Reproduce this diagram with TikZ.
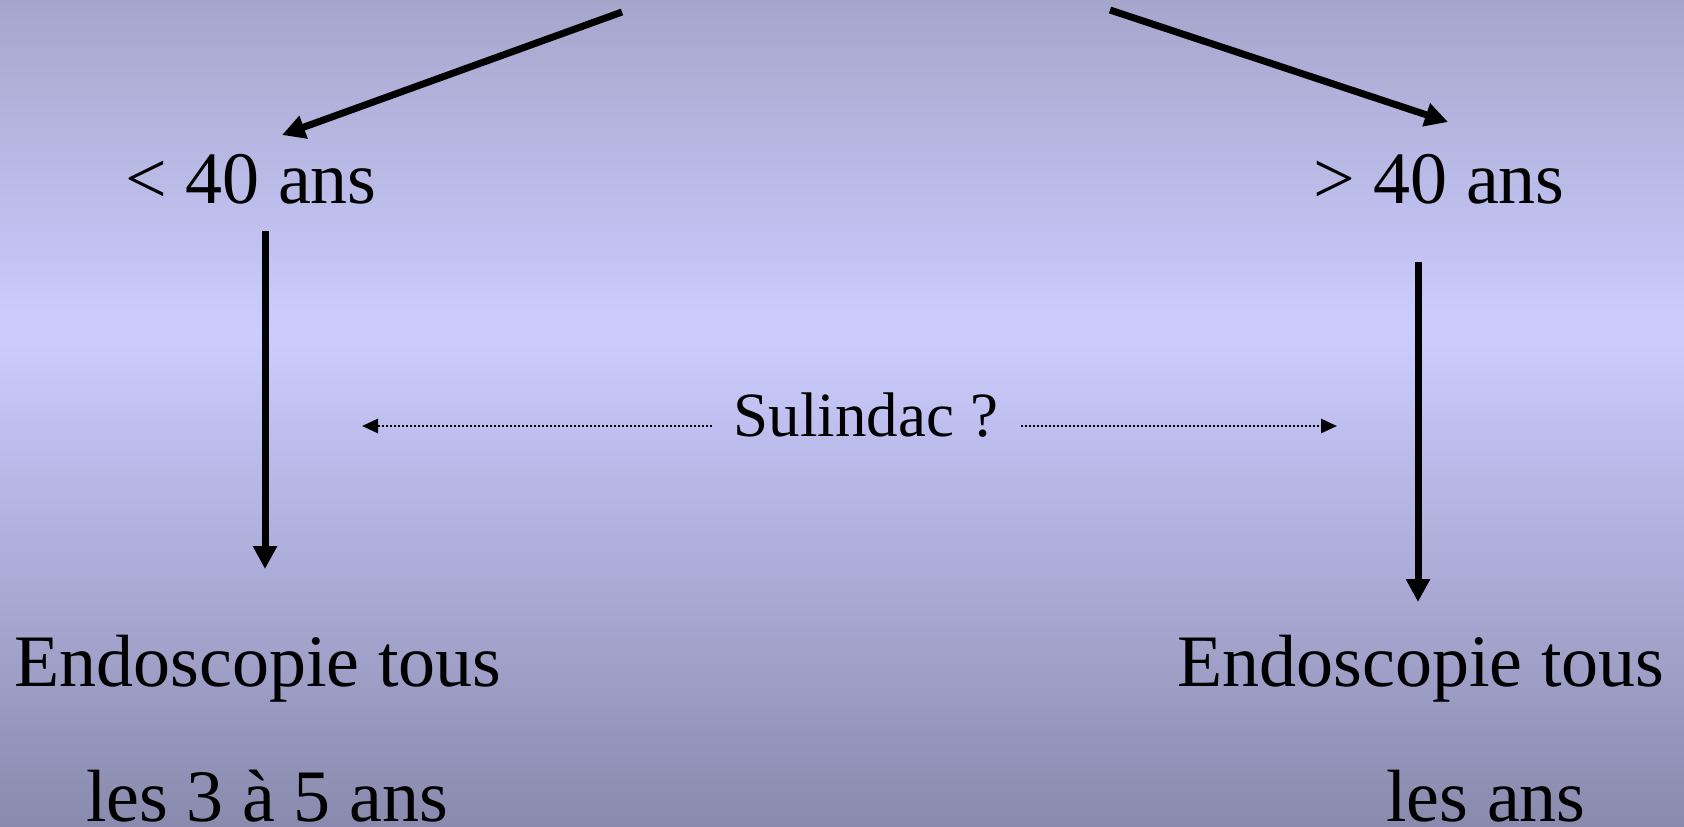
\documentclass[tikz,border=0pt]{standalone}
\usepackage{fontspec}
\setmainfont{Liberation Serif}
\usetikzlibrary{arrows.meta, positioning}

\definecolor{bgtop}{HTML}{A6A6CC}
\definecolor{bgmid}{HTML}{CCCCFF}
\definecolor{bgbot}{HTML}{8A8AAE}

\tikzset{
	label/.style={anchor=base, inner sep=0pt, font=\fontsize{37}{40}\selectfont},
	bigarrow/.style={line width=3.5pt, -{Triangle[width=11.5pt, length=11.5pt]}},
	dotarrow/.style={line width=1.4pt, dash pattern=on 1pt off 1pt, -{Triangle[width=7pt, length=8pt]}}
}

\begin{document}
\begin{tikzpicture}[x=0.5pt, y=-0.5pt]
	\useasboundingbox (0,0) rectangle (1684,826);
	\shade[top color=bgtop, bottom color=bgmid] (0,0) rectangle (1684,331);
	\shade[top color=bgmid, bottom color=bgbot] (0,330) rectangle (1684,826);

	\node[label] (young) at (251,203) {< 40 ans};
	\node[label] (old) at (1439,203) {> 40 ans};
	\node[label] (endoL) at (258,686) {Endoscopie tous};
	\node[label] (endoR) at (1421,686) {Endoscopie tous};
	\node[label] (freqL) at (267,821) {les 3 à 5 ans};
	\node[label] (freqR) at (1486,821) {les ans};
	\node[anchor=base, inner sep=11pt, font=\fontsize{31.5}{34}\selectfont] (sul) at (866,436) {Sulindac ?};

	\coordinate (srcL) at (622,12);
	\coordinate (srcR) at (1110,10);
	\coordinate (sulL) at (362,426);
	\coordinate (sulR) at (1337,426);

	\draw[bigarrow] (srcL) -- ([shift={(31,-68)}]young.base);
	\draw[bigarrow] (srcR) -- ([shift={(9,-81)}]old.base);
	\draw[bigarrow] ([shift={(14,28)}]young.base) -- ([shift={(7,-117)}]endoL.base);
	\draw[bigarrow] ([shift={(-21,59)}]old.base) -- ([shift={(-3,-84)}]endoR.base);

	\draw[dotarrow] ([shift={(0,-10)}]sul.base west) -- (sulL);
	\draw[dotarrow] ([shift={(0,-10)}]sul.base east) -- (sulR);
\end{tikzpicture}
\end{document}
